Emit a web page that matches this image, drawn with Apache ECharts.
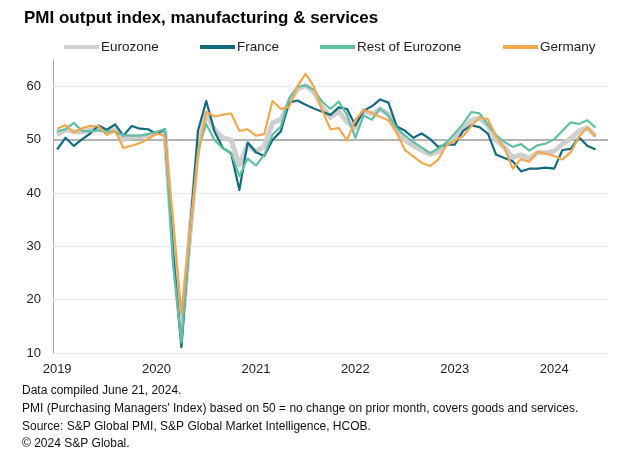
<!DOCTYPE html>
<html>
<head>
<meta charset="utf-8">
<script src="https://cdn.jsdelivr.net/npm/echarts@6/dist/echarts.min.js"></script>
<style>
html,body{margin:0;padding:0;background:#fff;}
#chart{width:631px;height:461px;}
</style>
</head>
<body>
<div id="chart"></div>
<script>
// ---- data ----
const years = ['2019', '2020', '2021', '2022', '2023', '2024'];
const yTicks = [10, 20, 30, 40, 50, 60];
const seriesNames = ['Eurozone', 'France', 'Rest of Eurozone', 'Germany'];

const eurozone = [
  51.0, 51.9, 51.6, 51.5, 51.8, 52.2, 51.5, 51.9, 50.1, 50.6, 50.6, 50.9,
  51.3, 51.6, 29.7, 13.6, 31.9, 48.5, 54.9, 51.9, 50.4, 50.0, 45.3, 49.1,
  47.8, 48.8, 53.2, 53.8, 57.1, 59.5, 60.2, 59.0, 56.2, 54.2, 55.4, 53.3,
  52.3, 55.5, 54.9, 55.8, 54.8, 52.0, 49.9, 48.9, 48.1, 47.3, 47.8, 49.3,
  50.3, 52.0, 53.7, 54.1, 52.8, 49.9, 48.6, 46.7, 47.2, 46.5, 47.6, 47.6,
  47.9, 49.2, 50.3, 51.7, 52.2, 50.8
];
const france = [
  48.2, 50.4, 48.9, 50.1, 51.2, 52.7, 51.9, 52.9, 50.8, 52.6, 52.1, 52.0,
  51.1, 52.0, 28.9, 11.1, 32.1, 51.7, 57.3, 51.6, 48.5, 47.5, 40.6, 49.5,
  47.7, 47.0, 50.0, 51.6, 57.0, 57.4, 56.6, 55.9, 55.3, 54.7, 56.1, 55.8,
  52.7, 55.5, 56.3, 57.6, 57.0, 52.5, 51.7, 50.4, 51.2, 50.2, 48.7, 49.1,
  49.1, 51.7, 52.7, 52.4, 51.2, 47.2, 46.6, 46.0, 44.1, 44.6, 44.6, 44.8,
  44.6, 48.1, 48.3, 50.5, 48.9, 48.2
];
const restOfEurozone = [
  51.6, 52.0, 53.2, 51.7, 51.6, 51.8, 51.6, 51.5, 50.9, 50.8, 50.8, 51.1,
  51.5, 52.0, 26.5, 12.0, 31.6, 48.1, 53.0, 50.0, 48.4, 47.6, 43.2, 46.5,
  45.2, 47.2, 51.0, 52.5, 57.8, 60.0, 60.2, 59.4, 57.2, 55.8, 57.2, 54.7,
  50.4, 54.6, 53.8, 55.9, 54.5, 52.2, 50.8, 49.6, 48.6, 47.5, 48.4, 49.5,
  51.2, 53.0, 55.2, 55.0, 52.8, 50.9, 49.6, 48.7, 49.2, 48.0, 49.0, 49.3,
  50.1, 51.7, 53.3, 53.0, 53.7, 52.3
];
const germany = [
  52.1, 52.8, 51.4, 52.2, 52.6, 52.6, 50.9, 51.7, 48.5, 48.9, 49.4, 50.2,
  51.2, 50.7, 35.0, 17.4, 32.3, 47.0, 55.3, 54.4, 54.7, 55.0, 51.7, 52.0,
  50.8, 51.1, 57.3, 55.8, 56.2, 60.1, 62.4, 60.0, 55.5, 52.0, 52.2, 49.9,
  53.8, 55.6, 55.1, 54.3, 53.7, 51.3, 48.1, 46.9, 45.7, 45.1, 46.3, 49.0,
  49.9, 50.7, 52.6, 54.2, 53.9, 50.6, 48.5, 44.6, 46.4, 45.9, 47.8, 47.4,
  47.0, 46.3, 47.7, 50.6, 52.4, 50.6
];

// month categories (one spare slot at the end, as in the original frame)
const months = [];
years.forEach(y => { for (let m = 1; m <= 12; m++) months.push(y + '-' + String(m).padStart(2, '0')); });
const categories = months.slice(0, eurozone.length).concat(['']);

const footer = [
  'Data compiled June 21, 2024.',
  "PMI (Purchasing Managers' Index) based on 50 = no change on prior month, covers goods and services.",
  'Source: S&P Global PMI, S&P Global Market Intelligence, HCOB.',
  '\u00A9 2024 S&P Global.'
];

// ---- chart ----
const FONT = '"Liberation Sans", Arial, sans-serif';
const chart = echarts.init(document.getElementById('chart'), null, { renderer: 'canvas' });

const lineSeries = (name, data, color, width, extra) => Object.assign({
  name, type: 'line', data, symbol: 'none', smooth: false,
  lineStyle: { color, width, join: 'round' }, itemStyle: { color },
  emphasis: { disabled: true }, z: 2
}, extra || {});

const legendLefts = [64, 200, 320, 503];

chart.setOption({
  animation: false,
  backgroundColor: '#fff',
  textStyle: { fontFamily: FONT },
  title: {
    text: 'PMI output index, manufacturing & services',
    left: 24, top: 10, padding: 0,
    textStyle: { fontFamily: FONT, fontSize: 17, fontWeight: 'bold', color: '#000' }
  },
  legend: seriesNames.map((n, i) => ({
    data: [n],
    left: legendLefts[i], top: 40, padding: 0,
    icon: 'rect', itemWidth: 35, itemHeight: 4,
    textStyle: { fontFamily: FONT, fontSize: 13.5, color: '#222', padding: [0, 0, 0, -3] },
    selectedMode: false
  })),
  grid: { left: 53, right: 23, top: 60, bottom: 108 },
  xAxis: {
    type: 'category', data: categories, boundaryGap: true,
    axisLine: { show: false }, axisTick: { show: false },
    splitLine: { show: false },
    axisLabel: {
      interval: (idx) => idx % 12 === 0,
      formatter: (v) => v.slice(0, 4),
      fontFamily: FONT, fontSize: 13, color: '#222', margin: 10
    }
  },
  yAxis: {
    type: 'value', min: 10, max: 65, interval: 10,
    axisLine: { show: true, lineStyle: { color: '#a6a6a6', width: 1 } },
    axisTick: { show: false },
    splitLine: { show: false },
    axisLabel: { fontFamily: FONT, fontSize: 13, color: '#222', margin: 12, showMaxLabel: false }
  },
  series: [
    lineSeries('Eurozone', eurozone, '#cfcfcf', 5, {
      markLine: {
        silent: true, symbol: 'none', z: 1, animation: false,
        label: { show: false },
        data: yTicks.map(v => ({
          yAxis: v,
          lineStyle: v === 50 ? { color: '#9a9a9a', width: 1.5, type: 'solid' }
                              : { color: '#e8e8e8', width: 1, type: 'solid' }
        }))
      }
    }),
    lineSeries('France', france, '#136b7f', 2.2),
    lineSeries('Rest of Eurozone', restOfEurozone, '#62c0a5', 2.2),
    lineSeries('Germany', germany, '#f2a84d', 2.2)
  ],
  graphic: footer.map((t, i) => ({
    type: 'text', left: 22, top: 385 + i * 17.7,
    style: { text: t, font: '12px ' + FONT, fill: '#111' }
  }))
});
</script>
</body>
</html>
